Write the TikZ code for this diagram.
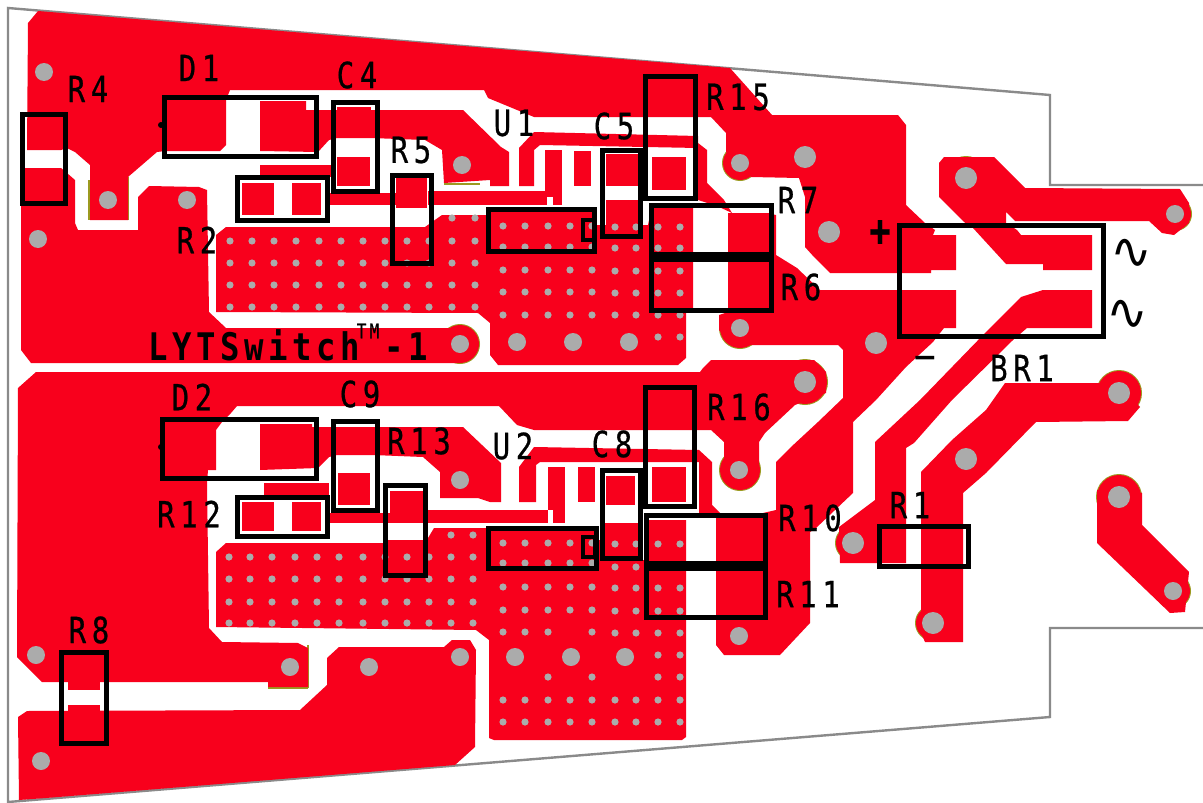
\documentclass[tikz,border=0pt]{standalone}
\usepackage{fontspec}
\newfontfamily\pcbfont[FakeStretch=0.8,FakeBold=0.7,LetterSpace=16]{DejaVu Sans Mono}
\newfontfamily\titlefont[FakeStretch=0.85,LetterSpace=12,BoldFont={DejaVu Sans Mono Bold}]{DejaVu Sans Mono}
\newfontfamily\symfont{DejaVu Sans}
\definecolor{copper}{HTML}{F8001C}
\definecolor{holegray}{HTML}{ABABAB}
\definecolor{edgegray}{HTML}{8A8A8A}
\definecolor{maskline}{HTML}{9C9A20}
\begin{document}
\begin{tikzpicture}[x=1pt,y=-1pt,line join=round]
	\tikzset{cu/.style={fill=copper,draw=none},
		hole/.style={fill=holegray,draw=none},
		part/.style={draw=black,line width=5pt,line join=miter},
		refname/.style={font=\pcbfont\fontsize{36}{36}\selectfont,inner sep=0pt}}
	\useasboundingbox (0,0) rectangle (1203,803);
	\fill[white] (0,0) rectangle (1203,803);
	\draw[edgegray,line width=2.4pt,line join=miter] (8,803)--(8,8)--(1050,95)--(1050,185)--(1203,185) (1203,628)--(1050,628)--(1050,717)--(8,802);
	\foreach \x/\y/\r in {460/344/19,740/163/17,740/470/20,805/382/22,1119/393/22,1119/497/22,740/328/20,933/623/17,853/543/17,966/178/21,966/459/20,1173/591/17,1175/214/16}
		\fill[maskline] (\x,\y) circle ({\r+1});
	\draw[maskline,line width=2.5pt] (89,180)--(89,220) (128,177)--(128,220) (444,184)--(480,184) (268,688)--(308,688) (308,645)--(308,688);
	\fill[cu] (28,23)--(38,11)--(730,68)--(772,115)--(898,115)--(906,125)--(906,205)--(925,223)--(935,230)--(933,235)--(956,235)--(956,270)--(931,270)--(931,273)--(830,273)--(814,257)--(805,247)--(805,197)--(799,178)--(751,177)--(726,152)--(726,133)--(711,117)--(534,117)--(488,98)--(484,90)--(230,90)--(226,100)--(226,145)--(220,151)--(165,151)--(157,152)--(128,177)--(128,220)--(90,220)--(90,165)--(75,152)--(67,148)--(61,150)--(27,150)--cycle;
	\fill[cu] (21,168)--(61,168)--(67,173)--(75,180)--(75,223)--(78,230)--(138,230)--(138,197)--(149,186)--(199,187)--(207,190)--(209,312)--(226,328)--(460,328)--(460,363)--(31,363)--(21,350)--cycle;
	\fill[cu] (260,101)--(306,101)--(306,110)--(463,110)--(501,147)--(509,152)--(509,186)--(490,186)--(490,180)--(444,183)--(442,150)--(425,140)--(371,138)--(337,138)--(329,140)--(318,152)--(260,151)--cycle;
	\fill[cu] (534,132)--(698,136)--(698,143)--(707,150)--(707,183)--(724,200)--(732,213)--(717,206)--(698,200)--(698,148)--(540,145)--(534,150)--(534,186)--(519,186)--(519,148)--cycle;
	\fill[cu] (768,213)--(776,215)--(776,255)--(797,268)--(820,290)--(956,290)--(956,328)--(944,328)--(933,342)--(906,367)--(876,400)--(853,422)--(853,493)--(816,528)--(810,532)--(810,623)--(780,655)--(724,655)--(716,645)--(716,517)--(763,513)--(776,510)--(776,462)--(791,447)--(818,422)--(843,398)--(843,350)--(838,345)--(732,345)--(719,330)--(719,315)--(728,312)--(728,213)--cycle;
	\fill[cu] (226,227)--(425,227)--(432,222)--(442,215)--(486,215)--(486,210)--(596,210)--(596,225)--(606,225)--(606,200)--(638,200)--(638,225)--(648,225)--(652,206)--(693,206)--(693,308)--(686,308)--(686,358)--(678,365)--(498,365)--(490,355)--(490,323)--(478,313)--(216,312)--(216,235)--cycle;
	\fill[cu] (36,372)--(700,372)--(703,368)--(711,360)--(814,360)--(826,372)--(826,393)--(795,405)--(765,433)--(759,442)--(759,477)--(751,487)--(724,470)--(724,442)--(711,430)--(534,430)--(517,425)--(499,406)--(237,406)--(231,413)--(222,422)--(216,430)--(216,470)--(208,470)--(207,483)--(209,628)--(222,642)--(298,643)--(308,648)--(308,687)--(268,687)--(268,682)--(42,682)--(17,657)--(18,388)--cycle;
	\fill[cu] (260,424)--(312,424)--(312,427)--(463,427)--(501,463)--(501,502)--(490,502)--(478,498)--(440,498)--(440,472)--(423,457)--(373,455)--(337,455)--(329,457)--(318,468)--(260,470)--cycle;
	\fill[cu] (534,447)--(699,450)--(712,462)--(712,505)--(720,513)--(699,513)--(699,462)--(540,462)--(536,465)--(536,502)--(519,502)--(519,467)--cycle;
	\fill[cu] (226,543)--(425,543)--(434,528)--(598,528)--(598,540)--(604,540)--(604,523)--(638,523)--(638,560)--(648,560)--(648,520)--(686,520)--(686,737)--(682,740)--(494,740)--(489,738)--(489,640)--(476,630)--(216,627)--(216,552)--cycle;
	\fill[cu] (18,717)--(27,711)--(300,710)--(327,685)--(327,658)--(339,647)--(444,647)--(452,640)--(470,640)--(476,650)--(475,747)--(455,765)--(46,798)--(19,800)--cycle;
	\fill[cu] (939,163)--(944,157)--(994,157)--(1025,188)--(1180,189)--(1189,203)--(1189,223)--(1174,235)--(1162,233)--(1149,221)--(1015,221)--(1006,212)--(1006,223)--(1017,230)--(1021,235)--(1092,235)--(1092,270)--(1043,270)--(1043,264)--(1006,264)--(973,228)--(964,222)--(939,197)--cycle;
	\fill[cu] (985,333)--(1021,297)--(1043,290)--(1092,290)--(1092,328)--(1027,328)--(1013,340)--(952,400)--(914,443)--(906,448)--(906,563)--(840,563)--(839,527)--(875,500)--(875,442)--(920,400)--cycle;
	\fill[cu] (1005,383)--(1119,383)--(1140,407)--(1128,421)--(1036,422)--(986,473)--(963,493)--(963,642)--(925,642)--(921,633)--(921,472)--(952,440)--(986,410)--cycle;
	\fill[cu] (1097,490)--(1142,493)--(1142,525)--(1189,572)--(1185,612)--(1170,613)--(1097,543)--cycle;
	\foreach \x/\y/\r in {460/344/19,740/163/17,740/470/20,805/382/22,1119/393/22,1119/497/22,740/328/20,933/623/17,853/543/17,966/178/21,966/459/20,1173/591/17,1175/214/16}
		\fill[cu] (\x,\y) circle (\r);
	\foreach \xa/\ya/\xb/\yb in {337/107/371/138,337/157/370/186,27/120/61/150,260/165/331/177,329/193/396/205,396/177/427/208,396/227/427/260,242/183/274/215,292/183/321/215,242/502/274/531,292/502/321/531,428/191/547/205,545/150/562/197,553/191/562/205,574/151/591/186,606/154/638/186,652/157/686/190,646/77/694/117,338/473/370/505,264/483/329/495,329/513/390/523,390/491/423/523,388/540/423/573,428/510/548/523,548/467/565/510,553/510/565/523,578/467/595/502,606/476/635/505,652/467/686/502,68/658/100/690,68/705/100/740,921/528/963/563,337/427/373/455,646/520/686/560,646/572/686/615}
		\fill[cu] (\xa,\ya) rectangle (\xb,\yb);
	\foreach \x in {230,252,274,296,319,341,363,385,407,429,452,475}
		\foreach \y in {241,263,285,307}
			\fill[hole] (\x,\y) circle (3.6);
	\foreach \x in {229,250,272,295,317,339,363,385,407,429,451,473}
		\foreach \y in {557,579,602,623}
			\fill[hole] (\x,\y) circle (3.6);
	\foreach \x in {503,525,548,570,592}{
		\foreach \y in {226,247,270,292,315,543,563,587,610,700,722}
			\fill[hole] (\x,\y) circle (3.6);
	}
	\foreach \x in {615,636,658,680}{
		\foreach \y in {227,248,271,293,315,544,567,588,611,633,700,722}
			\fill[hole] (\x,\y) circle (3.6);
	}
	\foreach \x/\y in {452/218,475/218,451/535,473/535,503/632,525/632,548/632,592/632,548/677,592/677,658/337,680/337,658/655,680/655,658/677,680/677}
		\fill[hole] (\x,\y) circle (3.6);
	\foreach \x/\y in {44/72,38/239,108/200,187/200,462/165,460/344,517/342,573/342,629/342,740/163,740/328,36/655,290/667,369/667,460/657,41/761,460/480,515/657,571/657,625/657,739/470,1173/591,739/636,1175/214}
		\fill[hole] (\x,\y) circle (9);
	\foreach \x/\y in {805/157,829/232,966/178,876/343,805/382,1119/393,966/459,1119/497,853/543,933/623}
		\fill[hole] (\x,\y) circle (11);
	\draw[part] (164,97) rectangle (316,156);
	\draw[part] (333,102) rectangle (377,191);
	\draw[part] (22,114) rectangle (65,203);
	\draw[part] (237,177) rectangle (327,220);
	\draw[part] (392,175) rectangle (431,263);
	\draw[part] (488,209) rectangle (594,251);
	\draw[part,line width=4pt] (583,220) rectangle (595,240);
	\draw[part] (602,150) rectangle (640,236);
	\draw[part] (645,76) rectangle (695,198);
	\draw[part] (651,205) rectangle (771,254);
	\draw[part] (651,259) rectangle (771,310);
	\draw[part] (899,225) rectangle (1103,336);
	\draw[part] (162,419) rectangle (316,478);
	\draw[part] (333,421) rectangle (377,510);
	\draw[part] (237,497) rectangle (327,536);
	\draw[part] (385,485) rectangle (425,575);
	\draw[part] (488,528) rectangle (596,568);
	\draw[part,line width=4pt] (583,537) rectangle (595,557);
	\draw[part] (602,470) rectangle (640,558);
	\draw[part] (645,387) rectangle (694,506);
	\draw[part] (646,515) rectangle (765,563.5);
	\draw[part] (646,568.5) rectangle (765,617);
	\draw[part] (879,526) rectangle (968,566);
	\draw[part] (61,652) rectangle (106,743);
	\fill (161,125) circle (3) (161,447) circle (3);
	\node[refname] (d1name) at (199,68) {D1};
	\node[refname] (c4name) at (357,75) {C4};
	\node[refname] (r4name) at (88,89) {R4};
	\node[refname] (u1name) at (514,123) {U1};
	\node[refname] (c5name) at (614,126) {C5};
	\node[refname] (r15name) at (738,97) {R15};
	\node[refname] (r5name) at (411,150) {R5};
	\node[refname] (r7name) at (798,200) {R7};
	\node[refname] (r2name) at (197,240) {R2};
	\node[refname] (r6name) at (801,287) {R6};
	\node[refname] (br1name) at (1022,368) {BR1};
	\node[refname] (d2name) at (192,397) {D2};
	\node[refname] (c9name) at (360,394) {C9};
	\node[refname] (r16name) at (739,407) {R16};
	\node[refname] (r13name) at (419,441) {R13};
	\node[refname] (u2name) at (513,446) {U2};
	\node[refname] (c8name) at (612,444) {C8};
	\node[refname] (r12name) at (189,514) {R12};
	\node[refname] (r10name) at (810,518) {R10};
	\node[refname] (r11name) at (808,594) {R11};
	\node[refname] (r1name) at (910,505) {R1};
	\node[refname] (r8name) at (89,630) {R8};
	\node[font=\titlefont\bfseries\fontsize{38}{38}\selectfont,inner sep=0pt,anchor=base west] (lytname) at (148,360) {LYTSwitch};
	\node[font=\pcbfont\fontsize{20}{20}\selectfont,inner sep=0pt] (tmname) at (368,331) {TM};
	\node[font=\titlefont\bfseries\fontsize{38}{38}\selectfont,inner sep=0pt,anchor=base west] (onename) at (384,360) {-1};
	\node[font=\pcbfont\bfseries\fontsize{44}{44}\selectfont,inner sep=0pt] (plusname) at (880,233) {+};
	\node[font=\symfont\fontsize{50}{50}\selectfont,inner sep=0pt] (acaname) at (1131,254) {∿};
	\node[font=\symfont\fontsize{50}{50}\selectfont,inner sep=0pt] (acbname) at (1127,315) {∿};
	\node[font=\symfont\bfseries\fontsize{30}{30}\selectfont,inner sep=0pt] (minusname) at (925,362) {−};
\end{tikzpicture}
\end{document}
